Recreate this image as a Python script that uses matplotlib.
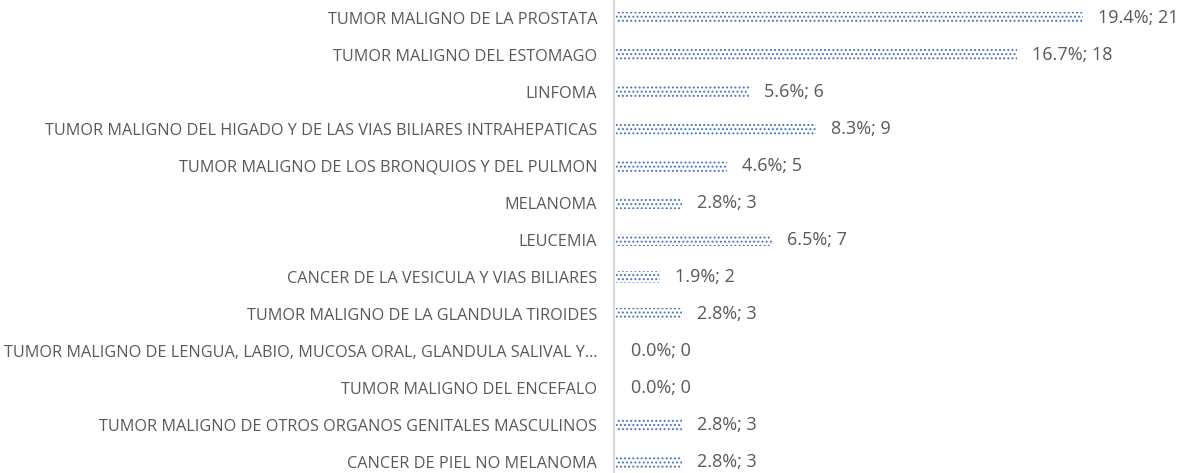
import matplotlib
matplotlib.use("Agg")
import matplotlib.pyplot as plt

categories = [
    "TUMOR MALIGNO DE LA PROSTATA",
    "TUMOR MALIGNO DEL ESTOMAGO",
    "LINFOMA",
    "TUMOR MALIGNO DEL HIGADO Y DE LAS VIAS BILIARES INTRAHEPATICAS",
    "TUMOR MALIGNO DE LOS BRONQUIOS Y DEL PULMON",
    "MELANOMA",
    "LEUCEMIA",
    "CANCER DE LA VESICULA Y VIAS BILIARES",
    "TUMOR MALIGNO DE LA GLANDULA TIROIDES",
    "TUMOR MALIGNO DE LENGUA, LABIO, MUCOSA ORAL, GLANDULA SALIVAL Y\u2026",
    "TUMOR MALIGNO DEL ENCEFALO",
    "TUMOR MALIGNO DE OTROS ORGANOS GENITALES MASCULINOS",
    "CANCER DE PIEL NO MELANOMA",
]
counts = [21, 18, 6, 9, 5, 3, 7, 2, 3, 0, 0, 3, 3]
percents = [19.4, 16.7, 5.6, 8.3, 4.6, 2.8, 6.5, 1.9, 2.8, 0.0, 0.0, 2.8, 2.8]

blue = "#4472C4"
gray = "#595959"

plt.rcParams["font.family"] = ["Open Sans", "DejaVu Sans"]
plt.rcParams["hatch.linewidth"] = 0.9
plt.rcParams["hatch.color"] = blue

fig = plt.figure(figsize=(11.84, 4.73), dpi=100)
ax = fig.add_axes([0.5185, 0.0, 0.4715, 1.0])

pos = list(range(len(categories)))
ax.barh(pos, counts, height=0.33, left=0.08, color="white",
        edgecolor=blue, hatch="....", linewidth=0)

for y, c, p in zip(pos, counts, percents):
    ax.annotate(f"{p:.1f}%; {c}", xy=(c + 0.08, y), xytext=(15, 0),
                textcoords="offset pixels", va="center", ha="left",
                fontsize=13, color=gray)

ax.set_xlim(0, 25.07)
ax.set_ylim(12 + 11 / 37, -18 / 37)
ax.set_yticks(pos)
ax.set_yticklabels(categories, fontsize=11.7, color=gray)
ax.tick_params(axis="y", length=0, pad=12)
ax.set_xticks([])
for side in ["top", "right", "bottom"]:
    ax.spines[side].set_visible(False)
ax.spines["left"].set_color("#D9D9D9")
ax.spines["left"].set_linewidth(1.5)

fig.savefig("out.png", dpi=100)
